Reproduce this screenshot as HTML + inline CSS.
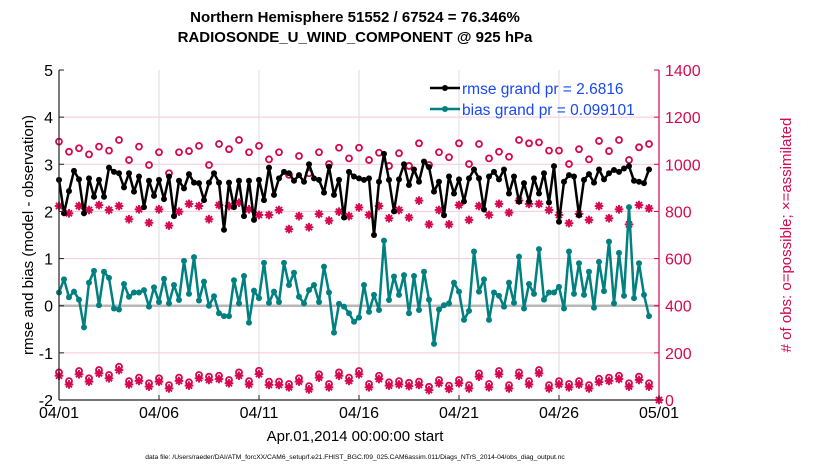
<!DOCTYPE html>
<html><head><meta charset="utf-8"><style>
body{margin:0;background:#fff;width:830px;height:470px;overflow:hidden}
svg{font-family:"Liberation Sans",sans-serif}
</style></head><body>
<svg id="chart" width="830" height="470" viewBox="0 0 830 470">
<g id="grid"></g>
<g id="series"></g>
<g id="axes"></g>
<text x="355" y="22" text-anchor="middle" font-size="15" font-weight="bold">Northern Hemisphere 51552 / 67524 = 76.346%</text>
<text x="355" y="42" text-anchor="middle" font-size="15" font-weight="bold">RADIOSONDE_U_WIND_COMPONENT @ 925 hPa</text>
<text x="355" y="441" text-anchor="middle" font-size="15">Apr.01,2014 00:00:00 start</text>
<text transform="translate(33,235) rotate(-90)" text-anchor="middle" font-size="15">rmse and bias (model - observation)</text>
<text transform="translate(791,235) rotate(-90)" text-anchor="middle" font-size="15" fill="#d6084f"># of obs: o=possible; ×=assimilated</text>
<text x="355" y="459" text-anchor="middle" font-size="6.7">data file: /Users/raeder/DAI/ATM_forcXX/CAM6_setup/f.e21.FHIST_BGC.f09_025.CAM6assim.011/Diags_NTrS_2014-04/obs_diag_output.nc</text>
<g>
<line x1="430" y1="88" x2="460" y2="88" stroke="#000" stroke-width="2.5"/><circle cx="445" cy="88" r="3" fill="#000"/>
<text x="462" y="94" font-size="15.5" fill="#1848f5">rmse grand pr = 2.6816</text>
<line x1="430" y1="109" x2="460" y2="109" stroke="#008080" stroke-width="2.5"/><circle cx="445" cy="109" r="3" fill="#008080"/>
<text x="462" y="115" font-size="15.5" fill="#1848f5">bias grand pr = 0.099101</text>
</g>
</svg>
<script>
const xTicks=["04/01","04/06","04/11","04/16","04/21","04/26","05/01"];
const yTicks=[-2,-1,0,1,2,3,4,5];
const y2Ticks=[0,200,400,600,800,1000,1200,1400];
const rmse=[2.67,1.96,2.43,2.86,2.68,1.96,2.7,2.31,2.67,2.31,2.93,2.84,2.81,2.51,2.81,2.42,2.74,2.09,2.65,2.33,2.67,2.26,2.74,1.9,2.65,2.49,2.79,2.61,2.6,2.24,
2.61,2.81,2.61,1.61,2.61,2.09,2.65,1.9,2.65,1.82,2.67,2.24,2.93,2.35,2.7,2.84,2.81,2.65,2.77,2.63,3.0,2.7,2.67,2.4,2.95,2.35,2.67,1.87,2.84,
2.74,2.7,2.67,2.7,1.5,2.63,3.22,2.67,2.0,2.68,3.0,2.56,2.89,2.63,3.06,2.94,2.42,2.63,1.92,2.74,2.38,2.68,2.21,2.7,2.89,2.7,2.04,2.74,
2.84,2.68,2.89,2.38,2.74,2.21,2.6,2.21,2.7,2.38,2.81,2.19,2.96,1.78,2.63,2.77,2.74,1.92,2.67,2.79,2.61,2.89,2.68,2.81,2.88,2.84,2.91,2.96,2.65,2.63,2.6,2.89];
const bias=[0.28,0.56,0.18,0.3,0.13,-0.46,0.49,0.74,0.01,0.72,0.59,-0.06,-0.08,0.46,0.19,0.28,0.28,0.33,-0.02,0.39,0.08,0.57,0.05,0.44,0.12,0.95,0.25,1.03,0.11,0.51,
0.0,0.2,-0.16,-0.22,-0.22,0.54,0.05,0.63,-0.36,0.32,0.16,0.91,0.06,0.3,0.08,0.91,0.44,0.7,0.19,0.05,0.33,0.44,0.08,0.83,0.28,-0.57,0.04,-0.02,-0.16,
-0.34,-0.25,0.44,-0.13,0.23,-0.09,1.38,0.12,0.62,0.23,0.65,-0.16,0.63,-0.09,0.72,0.13,-0.81,-0.08,0.01,0.05,0.49,0.3,-0.3,-0.11,1.15,0.3,0.56,-0.3,
0.28,0.21,-0.02,0.49,0.06,1.04,-0.06,0.46,0.25,1.2,0.13,0.28,0.28,0.4,-0.06,1.15,0.25,0.9,0.23,0.72,-0.04,0.93,0.31,1.36,0.05,1.12,0.21,2.09,0.16,0.9,0.23,-0.22];
const possTop=[1096,1053,1068,1042,1075,1058,1103,1018,1075,997,1051,962,1051,1056,1078,
997,1086,1064,1103,1051,1078,1021,1051,955,1035,962,1051,1001,1070,1025,
1070,1018,1049,993,1047,993,1089,997,1051,1030,1089,1001,1086,1025,
1053,1032,1103,1089,1093,1058,1058,1001,1064,1021,1099,1056,1103,1018,1072,1086];
const assimTop=[823,792,823,806,827,806,823,767,809,752,809,740,799,832,823,
767,827,823,837,809,785,785,806,725,780,733,789,761,799,780,
817,785,823,771,806,774,846,745,806,745,827,764,823,785,
832,795,846,832,832,806,785,750,789,764,823,771,809,745,827,813];
const assimLow=[103,66,109,78,113,92,127,66,81,57,78,49,81,61,92,85,89,71,103,66,110,64,64,54,78,45,95,54,103,81,109,
54,89,61,66,59,64,42,71,47,71,49,99,54,109,49,103,66,113,49,66,54,66,49,76,81,89,57,85,57];
const possLow=[117,80,123,92,127,106,141,80,95,71,92,63,95,75,106,99,103,85,117,80,124,78,78,68,92,59,109,68,117,95,123,
68,103,75,80,73,78,56,85,61,85,63,113,68,123,63,117,80,127,63,80,68,80,63,90,95,103,71,99,71];
const finalObs=[0];

const NS="http://www.w3.org/2000/svg";
const X0=59,X1=659,Y0=400,Y1=70;
const xs=i=>X0+i*(X1-X0)/120;
const ys=v=>Y0-(v+2)*(Y0-Y1)/7;
const y2s=v=>Y0-v*(Y0-Y1)/1400;
const RED="#d6084f";
function mk(tag,attrs,parent){const e=document.createElementNS(NS,tag);for(const k in attrs)e.setAttribute(k,attrs[k]);parent.appendChild(e);return e;}
const grid=document.getElementById('grid'),ser=document.getElementById('series'),ax=document.getElementById('axes');
yTicks.forEach(v=>{if(v>-2&&v<5&&v!==0){mk('line',{x1:X0,x2:X1,y1:ys(v),y2:ys(v),stroke:'#f6c8d8','stroke-width':1},grid);}});
xTicks.forEach((t,k)=>{if(k>0&&k<6){mk('line',{x1:xs(k*20),x2:xs(k*20),y1:Y1,y2:Y0,stroke:'#dcdcdc','stroke-width':1},grid);}});
mk('line',{x1:X0,x2:X1,y1:ys(0),y2:ys(0),stroke:'#b8b8b8','stroke-width':2.5},grid);
function star(cx,cy,name){const g=mk('g',{},ser);
 for(let a=0;a<180;a+=45){const r=4.3,c=Math.cos(a*Math.PI/180)*r,s=Math.sin(a*Math.PI/180)*r;mk('line',{x1:cx-c,y1:cy-s,x2:cx+c,y2:cy+s,stroke:RED,'stroke-width':1.9},g);}}
function ring(cx,cy,name){const c=mk('circle',{cx:cx,cy:cy,r:3,fill:'none',stroke:RED,'stroke-width':1.8},ser);}
possTop.forEach((v,k)=>ring(xs(2*k),y2s(v),'possible-obs-point'));
assimTop.forEach((v,k)=>star(xs(2*k),y2s(v),'assimilated-obs-point'));
assimLow.forEach((v,k)=>star(xs(2*k),y2s(v),'assimilated-obs-point-low'));
possLow.forEach((v,k)=>ring(xs(2*k),y2s(v),'possible-obs-point-low'));
finalObs.forEach(v=>star(xs(120),y2s(v),'final-obs-point'));
function line(data,color,name){const p=mk('polyline',{points:data.map((v,i)=>xs(i)+','+ys(v)).join(' '),fill:'none',stroke:color,'stroke-width':2.5,'stroke-linejoin':'round'},ser);
 
 data.forEach((v,i)=>{const c=mk('circle',{cx:xs(i),cy:ys(v),r:3,fill:color},ser);});}
line(rmse,'#000','rmse-line');
line(bias,'#008080','bias-line');
mk('line',{x1:X0,x2:X0,y1:Y1,y2:Y0,stroke:'#222','stroke-width':1.2},ax);
mk('line',{x1:X0,x2:X1,y1:Y0,y2:Y0,stroke:'#222','stroke-width':1.2},ax);
mk('line',{x1:X1,x2:X1,y1:Y1,y2:Y0,stroke:RED,'stroke-width':1.2},ax);
yTicks.forEach(v=>{mk('line',{x1:X0,x2:X0+5,y1:ys(v),y2:ys(v),stroke:'#222'},ax);
 const t=mk('text',{x:X0-6,y:ys(v)+6,'text-anchor':'end','font-size':16},ax);t.textContent=v;});
y2Ticks.forEach(v=>{mk('line',{x1:X1-5,x2:X1,y1:y2s(v),y2:y2s(v),stroke:RED},ax);
 const t=mk('text',{x:X1+6,y:y2s(v)+6,'font-size':16,fill:RED},ax);t.textContent=v;});
xTicks.forEach((s,k)=>{mk('line',{x1:xs(k*20),x2:xs(k*20),y1:Y0,y2:Y0-5,stroke:'#222'},ax);
 const t=mk('text',{x:xs(k*20),y:Y0+18,'text-anchor':'middle','font-size':16},ax);t.textContent=s;});
</script>
</body></html>
